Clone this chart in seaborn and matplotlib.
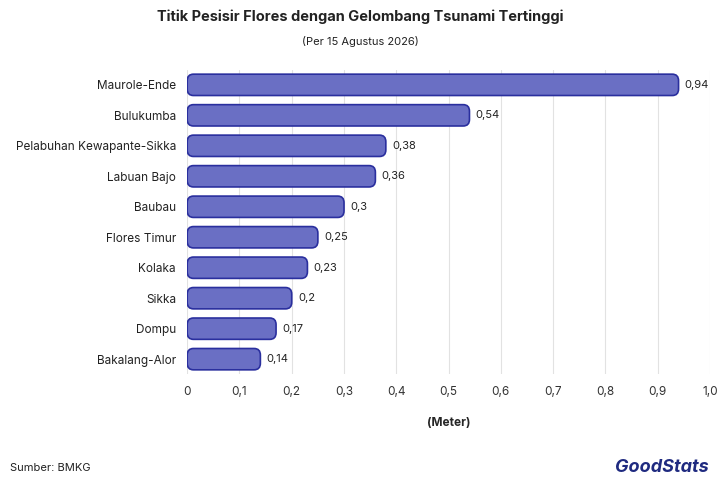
import matplotlib.pyplot as plt
import seaborn as sns
import pandas as pd
from matplotlib.patches import FancyBboxPatch

locations = ["Maurole-Ende", "Bulukumba", "Pelabuhan Kewapante-Sikka", "Labuan Bajo", "Baubau",
             "Flores Timur", "Kolaka", "Sikka", "Dompu", "Bakalang-Alor"]
heights = [0.94, 0.54, 0.38, 0.36, 0.3, 0.25, 0.23, 0.2, 0.17, 0.14]
value_labels = ["0,94", "0,54", "0,38", "0,36", "0,3", "0,25", "0,23", "0,2", "0,17", "0,14"]
x_ticks = [0, 0.1, 0.2, 0.3, 0.4, 0.5, 0.6, 0.7, 0.8, 0.9, 1.0]
x_tick_labels = ["0", "0,1", "0,2", "0,3", "0,4", "0,5", "0,6", "0,7", "0,8", "0,9", "1,0"]

df = pd.DataFrame({"lokasi": locations, "tinggi": heights})

sns.set_style("white")
plt.rcParams["font.family"] = ["Inter", "DejaVu Sans"]

fig = plt.figure(figsize=(7.2, 4.8), dpi=100)
ax = fig.add_axes([0.26, 0.22, 0.726, 0.635])

sns.barplot(data=df, x="tinggi", y="lokasi", color="#6a6fc4", width=0.7, ax=ax, zorder=3)

# ganti bar biasa dengan bar bersudut bulat
for p in list(ax.patches):
    x, y, w, h = p.get_x(), p.get_y(), p.get_width(), p.get_height()
    p.remove()
    ax.add_patch(FancyBboxPatch((x, y), w, h, boxstyle="round,pad=0,rounding_size=0.012",
                                mutation_aspect=18,
                                facecolor="#6a6fc4", edgecolor="#2a2f9e", linewidth=1.2, zorder=3))

for i, (v, lab) in enumerate(zip(heights, value_labels)):
    ax.text(v + 0.012, i, lab, va="center", ha="left", fontsize=8, color="#222222")

ax.set_xlim(0, 1.0)
ax.set_ylim(len(locations) - 0.5, -0.5)
ax.set_xticks(x_ticks)
ax.set_xticklabels(x_tick_labels, fontsize=8.5, color="#333333")
ax.tick_params(axis="y", labelsize=8.5, colors="#222222", length=0, pad=8)
ax.tick_params(axis="x", length=0, pad=8)
ax.grid(axis="x", color="#e2e2e2", linewidth=0.8, zorder=0)
for s in ax.spines.values():
    s.set_visible(False)
ax.set_ylabel("")
ax.set_xlabel("(Meter)", fontsize=8.5, fontweight="bold", labelpad=14)

fig.text(0.5, 0.965, "Titik Pesisir Flores dengan Gelombang Tsunami Tertinggi",
         ha="center", va="center", fontsize=10.5, fontweight="bold", color="#222222")
fig.text(0.5, 0.913, "(Per 15 Agustus 2026)", ha="center", va="center", fontsize=8, color="#222222")
fig.text(0.014, 0.025, "Sumber: BMKG", ha="left", va="center", fontsize=8, color="#222222")
fig.text(0.985, 0.025, "GoodStats", ha="right", va="center", fontsize=13, fontweight="bold",
         style="italic", color="#1f2a80")

fig.savefig("out.png", dpi=100)
